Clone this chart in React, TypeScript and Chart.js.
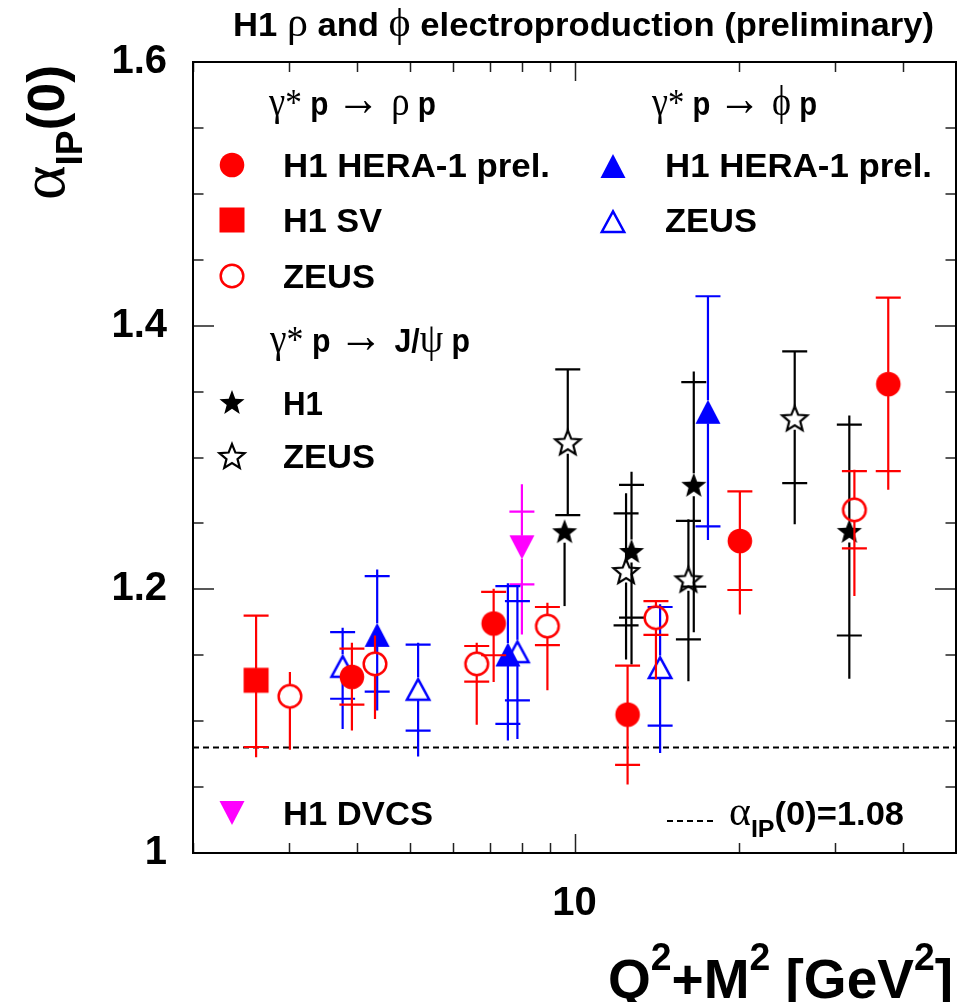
import React, { useEffect, useRef } from 'react';
import { Chart, registerables } from 'chart.js';

Chart.register(...registerables);

// ---------------- data ----------------
const X_MIN = 2;
const X_MAX = 50;
const Y_MIN = 1;
const Y_MAX = 1.6;
const X_TICKS = [2, 3, 4, 5, 6, 7, 8, 9, 10, 20, 30, 40, 50];
const X_LABELED = [10];
const Y_STEP = 0.05;
const Y_LABELED = [1, 1.2, 1.4, 1.6];
const ALPHA_REF = 1.08;

// [x, y, totalLow, totalHigh, statCapLow, statCapHigh]  (null = no cap)
type Pt = [number, number, number, number, number | null, number | null];

const RHO_H1: Pt[] = [
  [3.91, 1.1336, 1.093, 1.1595, 1.1125, 1.155],
  [7.11, 1.1741, 1.1298, 1.2005, 1.15, 1.198],
  [12.51, 1.105, 1.052, 1.1422, 1.0669, 1.1422],
  [20.09, 1.2367, 1.181, 1.2743, 1.1995, 1.2743],
  [37.57, 1.3557, 1.2755, 1.4213, 1.2897, 1.4213],
];
const RHO_H1_SV: Pt[] = [
  [2.61, 1.131, 1.0727, 1.18, 1.0804, 1.18],
];
const RHO_ZEUS: Pt[] = [
  [3.01, 1.1189, 1.0783, 1.1373, null, null],
  [4.31, 1.1435, 1.1017, 1.165, null, null],
  [6.62, 1.1435, 1.0973, 1.1595, 1.13, 1.157],
  [8.92, 1.1721, 1.1234, 1.1899, 1.1577, 1.1866],
  [14.1, 1.1785, 1.1316, 1.1919, 1.1655, 1.191],
  [32.57, 1.2603, 1.1949, 1.2907, 1.231, 1.2897],
];
const PHI_H1: Pt[] = [
  [4.35, 1.1655, 1.108, 1.215, 1.1224, 1.21],
  [7.55, 1.1506, 1.0854, 1.2046, 1.098, 1.2025],
  [17.56, 1.3347, 1.2375, 1.4223, 1.2477, 1.4223],
];
const PHI_ZEUS: Pt[] = [
  [3.76, 1.142, 1.094, 1.1709, 1.117, 1.1675],
  [5.17, 1.1246, 1.0732, 1.1595, 1.0928, 1.158],
  [7.86, 1.1531, 1.0864, 1.203, 1.1158, 1.191],
  [14.35, 1.1411, 1.0758, 1.1886, 1.0966, 1.1866],
];
const JPSI_H1: Pt[] = [
  [9.59, 1.2441, 1.1873, 1.2441, null, null],
  [12.72, 1.2291, 1.143, 1.2892, 1.1785, 1.2793],
  [16.54, 1.2793, 1.1675, 1.3652, 1.202, 1.3572],
  [31.88, 1.2443, 1.1321, 1.3318, 1.165, 1.3249],
];
const JPSI_ZEUS: Pt[] = [
  [9.72, 1.3116, 1.2563, 1.3668, 1.2563, 1.3668],
  [12.43, 1.2139, 1.1468, 1.2728, 1.1726, 1.2576],
  [16.17, 1.2076, 1.1303, 1.2532, 1.162, 1.2519],
  [25.32, 1.3298, 1.2494, 1.3805, 1.2806, 1.3805],
];
const DVCS_H1: Pt[] = [
  [8.01, 1.2319, 1.1658, 1.2798, 1.2038, 1.259],
];

const RED = '#ff0000';
const BLUE = '#0000ff';
const MAGENTA = '#ff00ff';
const BLACK = '#000000';

const SANS = '"Liberation Sans", Arial, Helvetica, sans-serif';
const SERIF = '"Liberation Serif", "DejaVu Serif", "Times New Roman", serif';

// plot frame placement on the 957x1002 canvas
const AREA = { left: 193, top: 62, right: 956, bottom: 853 };

let MARKERS: Record<string, HTMLCanvasElement> = {};

// ---------------- marker images ----------------
function starPath(g: CanvasRenderingContext2D, R: number, r: number) {
  const dy = 0.0955 * R;
  g.beginPath();
  for (let i = 0; i < 10; i++) {
    const a = -Math.PI / 2 + (i * Math.PI) / 5;
    const rad = i % 2 === 0 ? R : r;
    const px = Math.cos(a) * rad;
    const py = Math.sin(a) * rad + dy;
    if (i === 0) g.moveTo(px, py);
    else g.lineTo(px, py);
  }
  g.closePath();
}

function makeMarker(kind: string, color: string): HTMLCanvasElement {
  const c = document.createElement('canvas');
  c.width = 40;
  c.height = 40;
  const g = c.getContext('2d') as CanvasRenderingContext2D;
  g.translate(20, 20);
  g.fillStyle = color;
  g.strokeStyle = color;
  g.lineWidth = 2.5;
  switch (kind) {
    case 'circle':
      g.beginPath();
      g.arc(0, 0, 12.3, 0, Math.PI * 2);
      g.fill();
      break;
    case 'openCircle':
      g.beginPath();
      g.arc(0, 0, 11.3, 0, Math.PI * 2);
      g.stroke();
      break;
    case 'square':
      g.fillRect(-12.5, -12.5, 25, 25);
      break;
    case 'triangle':
      g.beginPath();
      g.moveTo(0, -12);
      g.lineTo(12.5, 12);
      g.lineTo(-12.5, 12);
      g.closePath();
      g.fill();
      break;
    case 'openTriangle':
      g.lineJoin = 'miter';
      g.beginPath();
      g.moveTo(0, -9.6);
      g.lineTo(11.2, 11);
      g.lineTo(-11.2, 11);
      g.closePath();
      g.stroke();
      break;
    case 'downTriangle':
      g.beginPath();
      g.moveTo(0, 12);
      g.lineTo(12.5, -12);
      g.lineTo(-12.5, -12);
      g.closePath();
      g.fill();
      break;
    case 'star':
      starPath(g, 13.2, 5.6);
      g.fill();
      break;
    case 'openStar':
      g.lineWidth = 2.2;
      g.lineJoin = 'miter';
      starPath(g, 13.2, 5.8);
      g.stroke();
      break;
  }
  return c;
}

// ---------------- rich text ----------------
type Seg = { t: string; f: string; dy?: number };

function drawRich(ctx: CanvasRenderingContext2D, segs: Seg[], x: number, y: number, targetW?: number) {
  ctx.save();
  ctx.textAlign = 'left';
  ctx.textBaseline = 'alphabetic';
  ctx.fillStyle = '#000';
  let total = 0;
  const ws = segs.map((s) => {
    ctx.font = s.f;
    const w = ctx.measureText(s.t).width;
    total += w;
    return w;
  });
  const sx = targetW ? targetW / total : 1;
  ctx.translate(x, y);
  ctx.scale(sx, 1);
  let cx = 0;
  segs.forEach((s, i) => {
    ctx.font = s.f;
    ctx.fillText(s.t, cx, s.dy || 0);
    cx += ws[i];
  });
  ctx.restore();
}

const sans = (px: number) => `bold ${px}px ${SANS}`;
const serif = (px: number) => `${px}px ${SERIF}`;

// ---------------- plugins ----------------
const areaPlugin = {
  id: 'fixArea',
  afterLayout(chart: any) {
    const ca = chart.chartArea;
    ca.left = AREA.left;
    ca.top = AREA.top;
    ca.right = AREA.right;
    ca.bottom = AREA.bottom;
    ca.width = AREA.right - AREA.left;
    ca.height = AREA.bottom - AREA.top;
    const xs = chart.scales.x;
    const ys = chart.scales.y;
    xs.left = AREA.left;
    xs.right = AREA.right;
    xs.width = AREA.right - AREA.left;
    xs.top = AREA.bottom;
    xs.bottom = chart.height;
    xs.height = chart.height - AREA.bottom;
    ys.left = 0;
    ys.right = AREA.left;
    ys.width = AREA.left;
    ys.top = AREA.top;
    ys.bottom = AREA.bottom;
    ys.height = AREA.bottom - AREA.top;
    xs.configure();
    ys.configure();
  },
};

const errorBarPlugin = {
  id: 'errorBars',
  beforeDatasetDraw(chart: any, args: any) {
    const ds = chart.data.datasets[args.index];
    const pts: Pt[] = ds.bars;
    if (!pts) return;
    const xs = chart.scales.x;
    const ys = chart.scales.y;
    const ctx: CanvasRenderingContext2D = chart.ctx;
    const gap = 11.5;
    const capHalf = 12.5;
    ctx.save();
    ctx.strokeStyle = ds.barColor;
    ctx.lineWidth = 2.2;
    ctx.lineCap = 'butt';
    pts.forEach((p) => {
      const px = xs.getPixelForValue(p[0]);
      const py = ys.getPixelForValue(p[1]);
      const lo = ys.getPixelForValue(p[2]);
      const hi = ys.getPixelForValue(p[3]);
      ctx.beginPath();
      if (lo > py + gap) {
        ctx.moveTo(px, py + gap);
        ctx.lineTo(px, lo);
      }
      if (hi < py - gap) {
        ctx.moveTo(px, py - gap);
        ctx.lineTo(px, hi);
      }
      [p[4], p[5]].forEach((c) => {
        if (c === null) return;
        const cy = ys.getPixelForValue(c);
        ctx.moveTo(px - capHalf, cy);
        ctx.lineTo(px + capHalf, cy);
      });
      ctx.stroke();
    });
    ctx.restore();
  },
};

const framePlugin = {
  id: 'frame',
  beforeDatasetsDraw(chart: any) {
    const ctx: CanvasRenderingContext2D = chart.ctx;
    const a = chart.chartArea;
    const ys = chart.scales.y;
    const yr = ys.getPixelForValue(ALPHA_REF);
    ctx.save();
    ctx.strokeStyle = '#000';
    ctx.lineWidth = 2;
    ctx.setLineDash([6, 4]);
    ctx.beginPath();
    ctx.moveTo(a.left, yr);
    ctx.lineTo(a.right, yr);
    ctx.stroke();
    ctx.restore();
  },
  afterDraw(chart: any) {
    const ctx: CanvasRenderingContext2D = chart.ctx;
    const a = chart.chartArea;
    const xs = chart.scales.x;
    const ys = chart.scales.y;
    ctx.save();
    // ticks
    ctx.strokeStyle = '#222';
    ctx.lineWidth = 1.5;
    ctx.beginPath();
    ys.ticks.forEach((t: any) => {
      const py = Math.round(ys.getPixelForValue(t.value));
      const major = Y_LABELED.some((l) => Math.abs(l - t.value) < 1e-6);
      const len = major ? 21 : 10.5;
      ctx.moveTo(a.left, py);
      ctx.lineTo(a.left + len, py);
      ctx.moveTo(a.right, py);
      ctx.lineTo(a.right - len, py);
    });
    xs.ticks.forEach((t: any) => {
      const px = Math.round(xs.getPixelForValue(t.value)) + 0.5;
      const lg = Math.log10(t.value);
      const major = Math.abs(lg - Math.round(lg)) < 1e-9;
      const len = major ? 19 : 10;
      ctx.moveTo(px, a.bottom);
      ctx.lineTo(px, a.bottom - len);
      ctx.moveTo(px, a.top);
      ctx.lineTo(px, a.top + len);
    });
    ctx.stroke();
    // frame
    ctx.strokeStyle = '#000';
    ctx.lineWidth = 2;
    ctx.strokeRect(a.left, a.top, a.right - a.left, a.bottom - a.top);
    ctx.restore();

    // title
    drawRich(
      ctx,
      [
        { t: 'H1 ', f: sans(33) },
        { t: 'ρ', f: serif(40) },
        { t: ' and ', f: sans(33) },
        { t: 'ϕ', f: serif(40) },
        { t: ' electroproduction (preliminary)', f: sans(33) },
      ],
      233,
      36,
      701
    );

    // y-axis title (rotated)
    ctx.save();
    ctx.translate(64, 200);
    ctx.rotate(-Math.PI / 2);
    drawRich(
      ctx,
      [
        { t: 'α', f: serif(64) },
        { t: 'IP', f: sans(36), dy: 18 },
        { t: '(0)', f: sans(52) },
      ],
      0,
      0,
      135
    );
    ctx.restore();

    // x-axis title
    drawRich(
      ctx,
      [
        { t: 'Q', f: sans(56) },
        { t: '2', f: sans(38), dy: -28 },
        { t: '+M', f: sans(56) },
        { t: '2', f: sans(38), dy: -28 },
        { t: ' [GeV', f: sans(56) },
        { t: '2', f: sans(38), dy: -28 },
        { t: ']', f: sans(56) },
      ],
      608,
      998,
      345
    );

    // legend headers
    const hdr = (greek: Seg[]): Seg[] => [
      { t: 'γ', f: serif(42) },
      { t: '* ', f: serif(38) },
      { t: 'p ', f: sans(34) },
      { t: '→ ', f: serif(50) },
      ...greek,
      { t: ' p', f: sans(34) },
    ];
    drawRich(ctx, hdr([{ t: 'ρ', f: serif(42) }]), 269, 115, 167);
    drawRich(ctx, hdr([{ t: 'ϕ', f: serif(42) }]), 652, 115, 165);
    drawRich(ctx, hdr([{ t: 'J/', f: sans(34) }, { t: 'ψ', f: serif(42) }]), 270, 352, 200);

    // legend entries
    const M = MARKERS;
    const entry = (img: HTMLCanvasElement, mx: number, my: number, text: string, tx: number, ty: number, tw: number) => {
      if (img) ctx.drawImage(img, Math.round(mx) - img.width / 2, Math.round(my) - img.height / 2);
      drawRich(ctx, [{ t: text, f: sans(34) }], tx, ty, tw);
    };
    entry(M.rhoH1, 232, 165, 'H1 HERA-1 prel.', 283, 177, 267);
    entry(M.rhoSV, 232, 220, 'H1 SV', 283, 232, 99);
    entry(M.rhoZ, 232, 276, 'ZEUS', 283, 288, 92);
    entry(M.phiH1, 613, 166, 'H1 HERA-1 prel.', 665, 177, 267);
    entry(M.phiZ, 613, 221, 'ZEUS', 665, 232, 92);
    entry(M.jH1, 232, 402, 'H1', 283, 415, 40);
    entry(M.jZ, 232, 456, 'ZEUS', 283, 468, 92);
    entry(M.dvcs, 232, 813, 'H1 DVCS', 283, 825, 150);

    // dashed reference legend
    ctx.save();
    ctx.strokeStyle = '#000';
    ctx.lineWidth = 2;
    ctx.setLineDash([6, 4]);
    ctx.beginPath();
    ctx.moveTo(667, 821);
    ctx.lineTo(713, 821);
    ctx.stroke();
    ctx.restore();
    drawRich(
      ctx,
      [
        { t: 'α', f: serif(40) },
        { t: 'IP', f: sans(24), dy: 12 },
        { t: '(0)=1.08', f: sans(33) },
      ],
      729,
      825,
      175
    );
  },
};

function toXY(pts: Pt[]) {
  return pts.map((p) => ({ x: p[0], y: p[1] }));
}

export default function App() {
  const ref = useRef<HTMLCanvasElement>(null);
  useEffect(() => {
    document.body.style.margin = '0';
    MARKERS = {
      rhoH1: makeMarker('circle', RED),
      rhoSV: makeMarker('square', RED),
      rhoZ: makeMarker('openCircle', RED),
      phiH1: makeMarker('triangle', BLUE),
      phiZ: makeMarker('openTriangle', BLUE),
      jH1: makeMarker('star', BLACK),
      jZ: makeMarker('openStar', BLACK),
      dvcs: makeMarker('downTriangle', MAGENTA),
    };
    const M = MARKERS;
    const mk = (label: string, pts: Pt[], img: HTMLCanvasElement, color: string): any => ({
      label,
      data: toXY(pts),
      bars: pts,
      barColor: color,
      pointStyle: img,
      pointRadius: 12,
      pointHoverRadius: 12,
      showLine: false,
      borderColor: color,
      backgroundColor: color,
    });
    const chart: any = new Chart(ref.current as HTMLCanvasElement, {
      type: 'scatter',
      data: {
        datasets: [
          mk('ρ H1 HERA-1 prel.', RHO_H1, M.rhoH1, RED),
          mk('ρ H1 SV', RHO_H1_SV, M.rhoSV, RED),
          mk('ρ ZEUS', RHO_ZEUS, M.rhoZ, RED),
          mk('φ H1 HERA-1 prel.', PHI_H1, M.phiH1, BLUE),
          mk('φ ZEUS', PHI_ZEUS, M.phiZ, BLUE),
          mk('J/ψ H1', JPSI_H1, M.jH1, BLACK),
          mk('J/ψ ZEUS', JPSI_ZEUS, M.jZ, BLACK),
          mk('H1 DVCS', DVCS_H1, M.dvcs, MAGENTA),
        ],
      },
      options: {
        responsive: false,
        animation: false,
        devicePixelRatio: 1,
        events: [],
        layout: { padding: { top: 62, right: 1, left: 0, bottom: 0 } },
        plugins: {
          legend: { display: false },
          title: { display: false },
          tooltip: { enabled: false },
        },
        scales: {
          x: {
            type: 'logarithmic',
            position: 'bottom',
            min: X_MIN,
            max: X_MAX,
            grid: { display: false, drawTicks: false },
            border: { display: false },
            afterBuildTicks: (s: any) => {
              s.ticks = X_TICKS.map((v) => ({ value: v }));
            },
            afterFit: (s: any) => {
              s.height = 149;
            },
            ticks: {
              autoSkip: false,
              maxRotation: 0,
              minRotation: 0,
              padding: 0,
              color: '#000',
              font: { family: SANS, weight: 'bold', size: 40, lineHeight: 2.55 },
              callback: (v: any) => (X_LABELED.includes(Number(v)) ? String(v) : ''),
            },
          },
          y: {
            type: 'linear',
            min: Y_MIN,
            max: Y_MAX,
            grid: { display: false, drawTicks: false },
            border: { display: false },
            afterFit: (s: any) => {
              s.width = 193;
            },
            ticks: {
              stepSize: Y_STEP,
              autoSkip: false,
              padding: 26,
              color: '#000',
              font: { family: SANS, weight: 'bold', size: 40 },
              callback: (v: any) => {
                const lab = Y_LABELED.find((l) => Math.abs(l - Number(v)) < 1e-6);
                if (lab === undefined) return '';
                return lab === 1 ? '1' : lab.toFixed(1);
              },
            },
          },
        },
      } as any,
      plugins: [areaPlugin, errorBarPlugin, framePlugin],
    } as any);
    return () => chart.destroy();
  }, []);
  return (
    <div style={{ position: 'absolute', left: 0, top: 0, width: 957, height: 1002, background: '#fff' }}>
      <canvas ref={ref} width={957} height={1002} style={{ display: 'block', width: 957, height: 1002 }} />
    </div>
  );
}
